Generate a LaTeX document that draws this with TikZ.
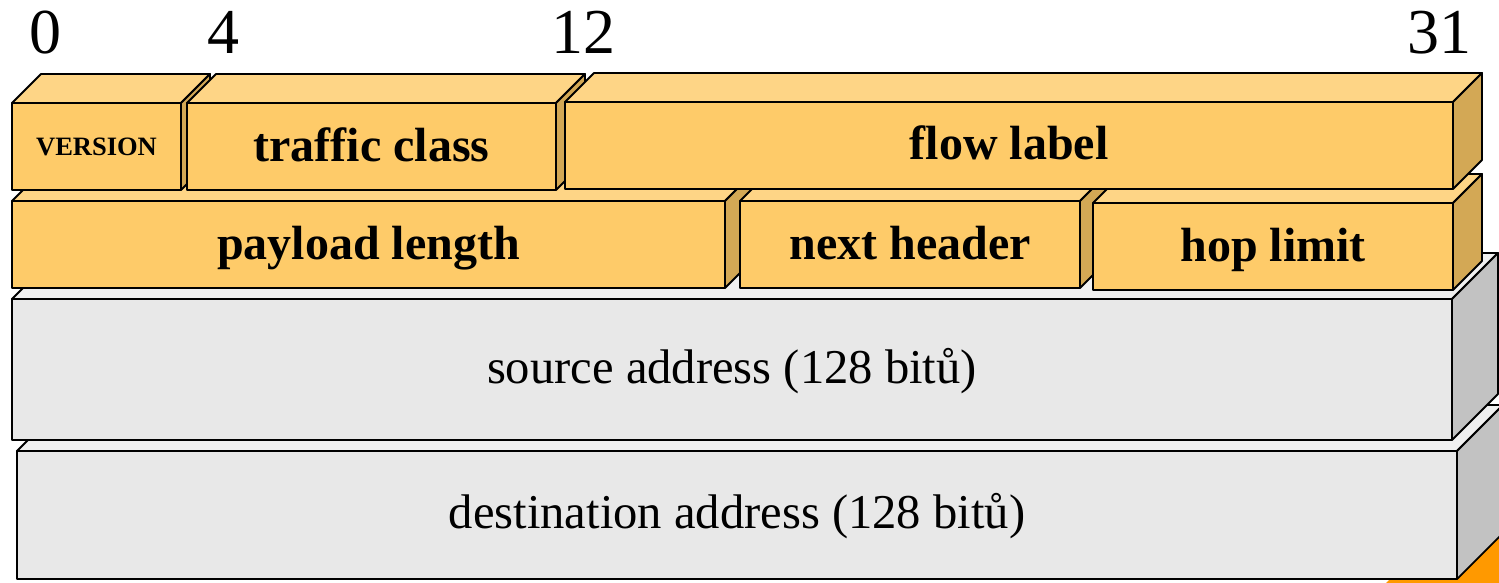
\documentclass[tikz,border=0pt]{standalone}
\usepackage{fontspec}
\setmainfont{Liberation Serif}
\usetikzlibrary{calc}

\definecolor{ofront}{HTML}{FECB69}
\definecolor{otop}{HTML}{FED586}
\definecolor{oside}{HTML}{D3A855}
\definecolor{gfront}{HTML}{E8E8E8}
\definecolor{gtop}{HTML}{F0F0F0}
\definecolor{gside}{HTML}{C2C2C2}
\definecolor{basecol}{HTML}{FF9900}

\tikzset{
  edge/.style={draw=black, line width=1.8pt, line join=round},
  facebox/.style={edge, rectangle, inner sep=0pt, outer sep=0pt},
  ofront/.style={facebox, fill=ofront, font=\fontsize{48}{50}\bfseries\selectfont,
                 text height=34pt, text depth=5pt},
  otop/.style={edge, fill=otop},
  oside/.style={edge, fill=oside},
  gfront/.style={facebox, fill=gfront, font=\fontsize{48.6}{50}\selectfont,
                 text height=33pt, text depth=6pt},
  gtop/.style={edge, fill=gtop},
  gside/.style={edge, fill=gside},
  small/.style={font=\fontsize{26.5}{28}\bfseries\selectfont, text height=19pt, text depth=2pt},
  bitnum/.style={font=\fontsize{64}{66}\selectfont, anchor=base, inner sep=0pt}
}

% one header field drawn as a block: front face (named node), top face, right face
% #1 name, #2 #3 front top-left, #4 #5 front bottom-right, #6 depth, #7 colour set, #8 extra style, #9 text
\newcommand\slab[9]{%
  \pgfmathsetmacro\slabw{#4-#2}%
  \pgfmathsetmacro\slabh{#5-#3}%
  \node[#7front, #8, minimum width=\slabw pt, minimum height=\slabh pt]
    (#1) at ({(#2+#4)/2},{(#3+#5)/2}) {#9};
  \filldraw[#7top] (#1.north west) -- ++(#6,-#6) -- ($(#1.north east)+(#6,-#6)$)
    -- (#1.north east) -- cycle;
  \filldraw[#7side] (#1.north east) -- ++(#6,-#6) -- ($(#1.south east)+(#6,-#6)$)
    -- (#1.south east) -- cycle;
}

\begin{document}
\begin{tikzpicture}[x=1pt, y=-1pt]
\useasboundingbox (0,0) rectangle (1499,583);
\clip (0,0) rectangle (1499,583);

% orange block peeking out below the addresses
\fill[basecol] (1377,592) -- (1389,580) -- (1499,470) -- (1530,470) -- (1530,592) -- cycle;

% address blocks
\slab{dst}{17}{451}{1457}{579}{46}{g}{}{destination address (128 bitů)}
\slab{src}{12}{299}{1452}{440}{46}{g}{}{source address (128 bitů)}

% second word
\slab{payload}{12}{201}{725}{288}{29}{o}{}{payload length}
\slab{next}{740}{201}{1080}{288}{29}{o}{}{next header}
\slab{hop}{1093}{203}{1453}{290}{29}{o}{}{hop limit}

% first word
\slab{version}{12}{103}{181}{190}{29}{o}{small}{VERSION}
\slab{tclass}{187}{103}{556}{190}{29}{o}{}{traffic class}
\slab{flow}{565}{102}{1453}{189}{29}{o}{}{flow label}

% bit positions
\node[bitnum] (b0) at (45,54) {0};
\node[bitnum] (b4) at (223,54) {4};
\node[bitnum] (b12) at (583,54) {12};
\node[bitnum] (b31) at (1439,54) {31};
\end{tikzpicture}
\end{document}
